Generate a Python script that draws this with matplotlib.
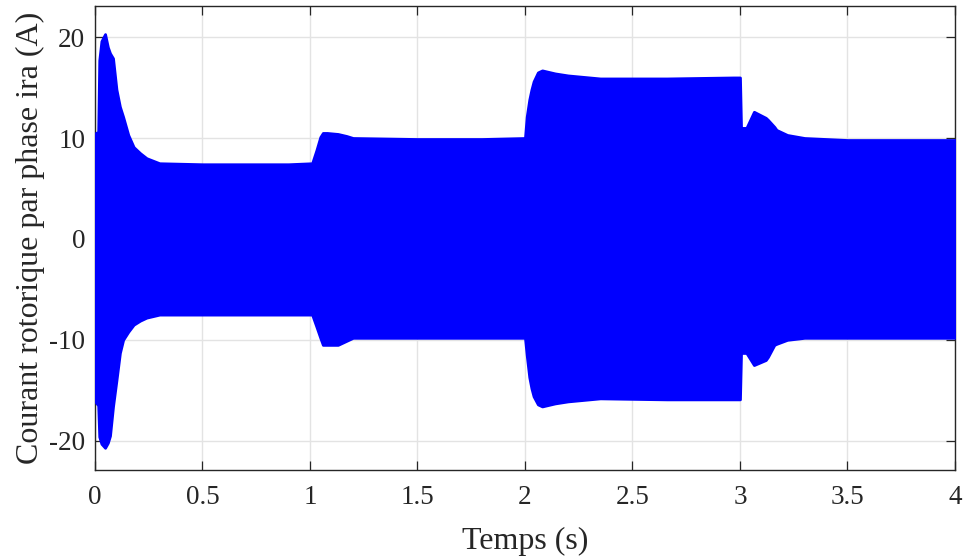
import matplotlib
matplotlib.use("Agg")
import matplotlib.pyplot as plt

# Envelope of the rotor phase current ira (upper / lower peaks), in A, versus time in s
t_env = [0.0, 0.004, 0.015, 0.02, 0.03, 0.047, 0.06, 0.07, 0.084, 0.1, 0.116,
         0.131, 0.155, 0.18, 0.21, 0.24, 0.30, 0.5, 0.7, 0.9, 1.01,
         1.03, 1.048, 1.06, 1.08, 1.13, 1.17, 1.2, 1.5, 1.8, 2.0,
         2.008, 2.02, 2.03, 2.04, 2.06, 2.08, 2.14, 2.2, 2.35, 2.66, 2.97, 3.0,
         3.005, 3.03, 3.065, 3.12, 3.13, 3.16, 3.17, 3.22, 3.3, 3.5, 3.7, 4.0]

ira_upper = [8.5, 10.5, 10.6, 17.7, 19.6, 20.3, 19.0, 18.4, 17.9, 14.8, 13.1,
             12.1, 10.3, 9.1, 8.5, 8.0, 7.5, 7.4, 7.4, 7.4, 7.5,
             8.8, 10.1, 10.5, 10.5, 10.4, 10.2, 10.0, 9.9, 9.9, 10.0,
             12.1, 13.8, 14.8, 15.6, 16.5, 16.7, 16.4, 16.2, 15.9, 15.9, 16.0, 16.0,
             11.0, 11.0, 12.6, 12.0, 11.8, 11.1, 10.8, 10.3, 10.0, 9.8, 9.8, 9.8]

ira_lower = [-5.7, -16.2, -16.5, -19.6, -20.3, -20.7, -20.2, -19.5, -16.6, -14.0, -11.3,
             -10.0, -9.2, -8.5, -8.1, -7.8, -7.5, -7.5, -7.5, -7.5, -7.5,
             -8.7, -9.8, -10.5, -10.5, -10.5, -10.1, -9.8, -9.8, -9.8, -9.8,
             -11.5, -13.7, -14.8, -15.6, -16.4, -16.6, -16.3, -16.1, -15.8, -15.9, -15.9, -15.9,
             -11.3, -11.3, -12.5, -12.0, -11.7, -10.5, -10.4, -10.0, -9.8, -9.8, -9.8, -9.8]

x_ticks = [0, 0.5, 1, 1.5, 2, 2.5, 3, 3.5, 4]
x_tick_labels = ["0", "0.5", "1", "1.5", "2", "2.5", "3", "3.5", "4"]
y_ticks = [-20, -10, 0, 10, 20]
y_tick_labels = ["-20", "-10", "0", "10", "20"]

plt.rcParams["font.family"] = ["Liberation Serif", "DejaVu Serif"]

fig = plt.figure(figsize=(9.65, 5.59), dpi=100)
ax = fig.add_axes([0.0984, 0.1592, 0.8912, 0.8295])

ax.fill_between(t_env, ira_lower, ira_upper, facecolor="#0000ff",
                edgecolor="#0000ff", linewidth=2.0, zorder=3)

ax.set_xlim(0, 4)
ax.set_ylim(-22.9, 23.05)
ax.set_xticks(x_ticks)
ax.set_xticklabels(x_tick_labels)
ax.set_yticks(y_ticks)
ax.set_yticklabels(y_tick_labels)

ax.grid(True, color="#e3e3e3", linewidth=1.0, zorder=0)
ax.set_axisbelow(True)

ax.tick_params(direction="in", length=6.5, width=0.9, colors="#262626",
               labelsize=19.5, top=True, right=True, labelcolor="#262626")
ax.tick_params(axis="x", pad=11)
ax.tick_params(axis="y", pad=7)
for s in ax.spines.values():
    s.set_color("#262626")
    s.set_linewidth(1.0)

ax.set_xlabel("Temps (s)", fontsize=23, color="#262626", labelpad=12)
ax.set_ylabel("Courant rotorique par phase ira (A)", fontsize=23,
              color="#262626", labelpad=3)

fig.savefig("out.png", dpi=100)
